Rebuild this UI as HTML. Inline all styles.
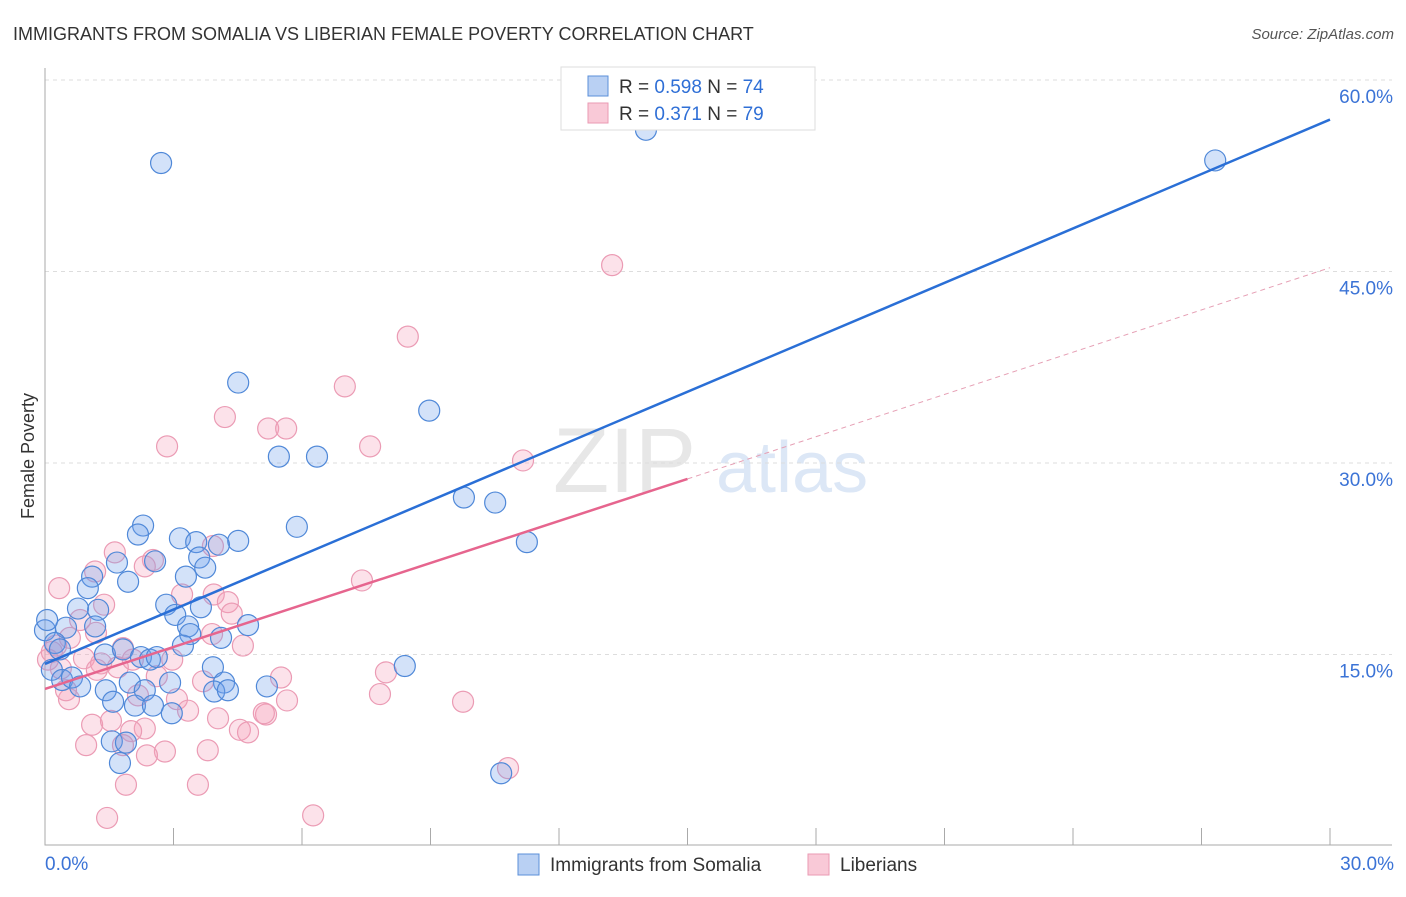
<!DOCTYPE html>
<html><head><meta charset="utf-8"><style>
body{margin:0;background:#fff;font-family:"Liberation Sans",sans-serif}
svg text{font-family:"Liberation Sans",sans-serif}
</style></head><body>
<svg id="chart" width="1406" height="892" xmlns="http://www.w3.org/2000/svg">
<text x="13" y="40" font-size="18" fill="#333">IMMIGRANTS FROM SOMALIA VS LIBERIAN FEMALE POVERTY CORRELATION CHART</text>
<text x="1394" y="39" font-size="15" fill="#555" text-anchor="end" font-style="italic">Source: ZipAtlas.com</text>
<g opacity="0.35">
<text x="553" y="492" font-size="92" fill="#bbb" font-family="Liberation Serif">ZIP</text>
<text x="716" y="492" font-size="72" fill="#9dbbe6">atlas</text>
</g>
<g id="grid"></g>
<g id="axes"></g>
<g id="pts"></g>
<g id="lines"></g>
<text transform="translate(34,456) rotate(-90)" font-size="18" fill="#333" text-anchor="middle">Female Poverty</text>
<g>
<rect x="561" y="67" width="254" height="63" fill="#fff" stroke="#ddd"/>
<rect x="588" y="76" width="20" height="20" fill="#b9d0f3" stroke="#5b8fd8"/>
<rect x="588" y="103" width="20" height="20" fill="#f9c9d7" stroke="#ea9ab3"/>
<text x="619" y="93" font-size="19" fill="#333">R = <tspan fill="#2f6fd6">0.598</tspan>   N = <tspan fill="#2f6fd6">74</tspan></text>
<text x="619" y="120" font-size="19" fill="#333">R = <tspan fill="#2f6fd6"> 0.371</tspan>   N = <tspan fill="#2f6fd6">79</tspan></text>
</g>
<g>
<rect x="518" y="854" width="21" height="21" fill="#b9d0f3" stroke="#5b8fd8"/>
<text x="550" y="871" font-size="19" fill="#333">Immigrants from Somalia</text>
<rect x="808" y="854" width="21" height="21" fill="#f9c9d7" stroke="#ea9ab3"/>
<text x="840" y="871" font-size="19" fill="#333">Liberians</text>
</g>
</svg>
<script>
const yTicks=[15,30,45,60];
const yTickLabels=["15.0%","30.0%","45.0%","60.0%"];
const xTickLabels=["0.0%","30.0%"];
const blueX=[2.71,14.03,27.32,4.51,8.97,5.46,6.35,9.78,10.51,11.25,5.88,2.29,2.17,3.15,4.51,3.53,4.06,2.57,1.68,3.60,3.74,3.29,1.10,1.94,1.00,2.83,3.64,0.77,1.24,3.04,4.74,3.34,0.49,1.17,3.39,4.11,3.22,0,0.23,0.35,1.40,1.82,2.24,2.45,2.61,3.92,8.40,0.16,0.40,0.63,0.82,1.98,2.92,4.18,1.42,2.33,3.95,4.27,5.18,1.59,2.10,2.52,2.96,1.56,1.89,1.75,10.65,0.05];
const blueY=[53.5,56.1,53.7,36.3,34.1,30.5,30.5,27.3,26.9,23.8,25.0,25.1,24.4,24.1,23.9,23.8,23.6,22.3,22.2,22.6,21.8,21.1,21.1,20.7,20.2,18.9,18.7,18.6,18.5,18.1,17.3,17.2,17.1,17.2,16.6,16.3,15.7,16.9,15.9,15.4,15.0,15.4,14.8,14.6,14.8,14.0,14.1,13.8,13.0,13.2,12.5,12.8,12.8,12.8,12.2,12.2,12.1,12.2,12.5,11.3,11.0,11.0,10.4,8.2,8.1,6.5,5.7,17.7];
const pinkX=[13.24,8.47,7.00,4.20,5.21,5.63,7.59,2.85,11.16,7.40,0.33,1.63,2.52,2.33,3.92,1.17,3.20,3.94,4.27,1.38,4.36,0.82,1.19,3.90,0.58,4.62,1.82,0.91,2.97,2.05,1.31,1.70,0.37,1.21,2.61,5.51,7.96,3.69,0.56,2.17,7.82,9.76,3.08,5.65,3.34,5.16,5.11,4.04,1.10,1.54,2.33,2.01,4.55,4.74,0.96,1.82,2.80,3.80,2.38,1.89,3.57,1.45,6.26,10.81,0.26,0.07,0.16,0.49];
const pinkY=[45.5,39.9,36.0,33.6,32.7,32.7,31.3,31.3,30.2,20.8,20.2,23.0,22.4,21.9,23.5,21.5,19.7,19.7,19.1,18.9,18.2,17.7,16.7,16.6,16.3,15.7,15.5,14.7,14.6,14.6,14.3,14.0,13.9,13.8,13.3,13.2,13.6,12.9,11.5,11.8,11.9,11.3,11.5,11.4,10.6,10.3,10.4,10.0,9.5,9.8,9.2,9.0,9.1,8.9,7.9,7.9,7.4,7.5,7.1,4.8,4.8,2.2,2.4,6.1,15.7,14.6,15.2,12.2];
const blueLine=[[0,14.26],[30,56.9]];
const pinkLine=[[0,12.3],[15,28.75]];
const pinkDash=[[15,28.75],[30,45.3]];
const X=v=>45+v/30*1285, Y=v=>846-v/15*191.5;
const NS="http://www.w3.org/2000/svg";
function mk(t,a,p){const e=document.createElementNS(NS,t);for(const k in a)e.setAttribute(k,a[k]);p.appendChild(e);return e;}
const grid=document.getElementById('grid'),axes=document.getElementById('axes'),pts=document.getElementById('pts'),lines=document.getElementById('lines');
yTicks.forEach((t,i)=>{
 const l=mk('line',{x1:45,x2:1392,y1:Y(t),y2:Y(t),stroke:'#ddd','stroke-dasharray':'4,4'},grid);
 
 
 const tx=mk('text',{x:1393,y:Y(t)+23,'font-size':19,fill:'#3b73d6','text-anchor':'end'},grid);
 tx.textContent=yTickLabels[i];
 
 
});
const ax=mk('path',{d:'M45,68V845H1392',stroke:'#aaa',fill:'none'},axes);


for(let i=1;i<=10;i++){
 const tk=mk('line',{x1:X(i*3),x2:X(i*3),y1:828,y2:845,stroke:'#aaa'},axes);
 
 
}
[[0,'start',45],[30,'end',1394]].forEach((d,i)=>{
 const tx=mk('text',{x:d[2],y:870,'font-size':19,fill:'#3b73d6','text-anchor':d[1]},axes);
 tx.textContent=xTickLabels[i];
 
 
});
function dots(xs,ys,fill,stroke,name){xs.forEach((x,i)=>{
 const c=mk('circle',{cx:X(x),cy:Y(ys[i]),r:10.5,fill:fill,stroke:stroke,'stroke-width':1.2},pts);
 
 
});}
dots(pinkX,pinkY,'rgba(244,160,185,0.3)','#eb9bb4','liberian-point');
dots(blueX,blueY,'rgba(110,160,235,0.3)','#4f88d8','somalia-point');
function ln(p,col,w,dash,name){
 const l=mk('line',{x1:X(p[0][0]),y1:Y(p[0][1]),x2:X(p[1][0]),y2:Y(p[1][1]),stroke:col,'stroke-width':w},lines);
 if(dash)l.setAttribute('stroke-dasharray',dash);
 
 
}
ln(blueLine,'#2a6fd6',2.5,null,'somalia-trend-line');
ln(pinkLine,'#e6658e',2.5,null,'liberian-trend-line');
ln(pinkDash,'#e6a0b5',1,'5,4','liberian-trend-extension');
</script>
</body></html>
